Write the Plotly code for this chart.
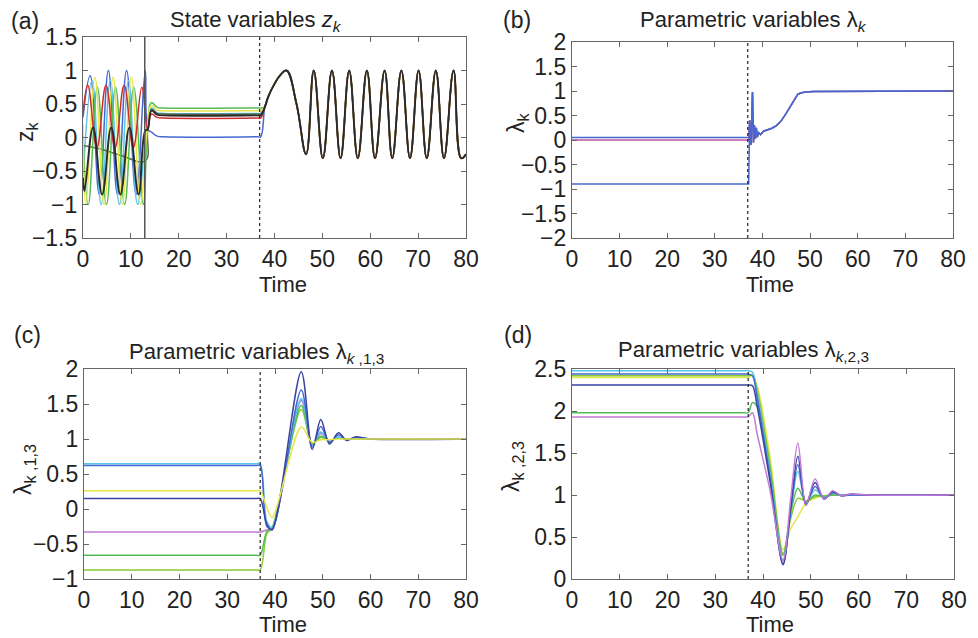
import plotly.graph_objects as go

# ---------------- DATA ----------------
# switching times (vertical marker lines)
SWITCH_A = 12.9
SWITCH_T = 36.9

# Panel (a): state variables z_k  (phase-1 extrema, settling, flat level until the switch)
A_BLUE_T = [0, 1.5, 3.4, 5.3, 7.2, 9.1, 11.1, 13.0, 13.6, 14.3, 15.5, 17.0, 36.5, 37.1]
A_BLUE_V = [0.3, 0.92, -0.85, 1.0, -0.85, 1.0, -0.85, 1.0, 0.12, 0.08, 0.02, 0.01, 0.01, 0.01]
A_CYAN_T = [0, 1.9, 3.8, 5.7, 7.6, 9.5, 11.4, 13.3, 14.3, 15.5, 17.0, 36.5, 37.1]
A_CYAN_V = [-0.6, 0.85, -1.0, 0.85, -1.0, 0.85, -1.0, 0.12, 0.44, 0.37, 0.36, 0.36, 0.36]
A_OLIVE_T = [0, 4.0, 8.0, 13.0, 13.5, 14.3, 15.5, 17.0, 36.5, 37.1]
A_OLIVE_V = [-0.12, -0.18, -0.27, -0.35, 0.1, 0.42, 0.36, 0.35, 0.35, 0.35]
A_GREEN_T = [0, 1.1, 3.0, 4.9, 6.8, 8.7, 10.6, 12.6, 13.5, 14.3, 15.5, 17.0, 36.5, 37.1]
A_GREEN_V = [0.0, -1.0, 0.75, -1.0, 0.75, -1.0, 0.75, -1.0, 0.15, 0.52, 0.45, 0.44, 0.44, 0.44]
A_YELLOW_T = [0, 0.6, 2.5, 4.4, 6.3, 8.2, 10.1, 12.0, 13.4, 14.3, 15.5, 17.0, 36.5, 37.1]
A_YELLOW_V = [0.2, -1.0, 0.9, -1.0, 0.9, -1.0, 0.9, -1.0, 0.12, 0.48, 0.41, 0.40, 0.40, 0.40]
A_RED_T = [0, 1.0, 2.9, 4.8, 6.7, 8.6, 10.5, 12.3, 13.5, 14.3, 15.5, 17.0, 36.5, 37.1]
A_RED_V = [0.35, 0.78, -0.15, 0.78, -0.15, 0.78, -0.15, 0.75, 0.12, 0.35, 0.30, 0.29, 0.29, 0.29]
A_BLACK_T = [0, 0.3, 2.1, 4.0, 5.9, 7.8, 9.7, 11.6, 13.0, 13.5, 14.3, 15.5, 17.0, 36.5, 37.1]
A_BLACK_V = [-0.6, -0.8, 0.15, -0.85, 0.15, -0.85, 0.15, -0.85, 0.1, 0.12, 0.40, 0.34, 0.33, 0.33, 0.33]
# common trajectory after the switch (all series coincide)
A_POST_T = [38.0, 38.7, 40.0, 41.2, 42.5, 44.6, 46.6, 48.2, 50.1, 52.0, 53.8,
            55.6, 57.4, 59.3, 61.0, 63.0, 64.6, 66.5, 68.3, 70.1, 71.8, 73.7, 75.4,
            77.4, 79.0, 80.0]
A_POST_V = [0.46, 0.61, 0.80, 0.93, 1.0, 0.50, -0.25, 1.0, -0.31, 1.0, -0.31,
            1.0, -0.31, 1.0, -0.31, 1.0, -0.31, 1.0, -0.31, 1.0, -0.31, 1.0, -0.31,
            1.0, -0.31, -0.25]

# Panel (b): lambda_k
B_LEVELS = [0.05, 0.0, -0.90]
B_POST_T = [37.1, 37.3, 37.6, 37.9, 38.1, 38.3, 38.5, 38.7, 38.9, 39.2, 39.6, 40.2,
            41.0, 42.0, 43.0, 44.0, 45.0, 45.8, 46.6, 47.4, 48.0, 49.0, 50.7, 80.0]
B_POST_V = [None, 0.40, -0.10, 0.98, -0.05, 0.30, 0.02, 0.25, 0.06, 0.15, 0.11, 0.18,
            0.20, 0.24, 0.30, 0.40, 0.55, 0.68, 0.82, 0.93, 0.96, 0.98, 0.99, 1.0]

# Panel (c): lambda_{k,1,3}
C_T = [0, 36.0, 36.9, 38.3, 39.4, 45.5, 47.8, 49.6, 51.4, 53.3, 55.0, 56.8, 60.0, 80.0]
C_MAGENTA = [-0.33, -0.33, -0.33, -0.30, -0.28, 1.55, 0.92, 1.08, 0.97, 1.03, 0.99, 1.01, 1.0, 1.0]
C_GREEN2 = [-0.87, -0.87, -0.87, -0.35, -0.27, 1.42, 0.94, 1.02, 0.98, 1.01, 1.0, 1.0, 1.0, 1.0]
C_GREEN = [-0.66, -0.66, -0.66, -0.32, -0.27, 1.48, 0.93, 1.04, 0.98, 1.01, 1.0, 1.0, 1.0, 1.0]
C_CYAN = [0.645, 0.645, 0.645, -0.18, -0.26, 1.58, 0.91, 1.10, 0.97, 1.03, 0.99, 1.01, 1.0, 1.0]
C_BLUE = [0.62, 0.62, 0.62, -0.25, -0.28, 1.70, 0.88, 1.18, 0.95, 1.06, 0.99, 1.02, 1.0, 1.0]
C_NAVY = [0.15, 0.15, 0.15, -0.22, -0.30, 1.96, 0.85, 1.28, 0.93, 1.09, 0.98, 1.03, 1.0, 1.0]
C_YELLOW = [0.26, 0.26, 0.26, 0.02, -0.12, 1.17, 0.95, 0.99, 0.99, 1.0, 1.0, 1.0, 1.0, 1.0]

# Panel (d): lambda_{k,2,3}
D_T = [0, 36.0, 36.9, 37.8, 38.8, 41.5, 44.2, 45.8, 47.3, 49.0, 50.9, 52.8, 54.6, 56.4, 58.2, 62.0, 80.0]
D_YELLOW = [2.40, 2.40, 2.40, 2.43, 2.30, 1.45, 0.35, 0.60, 0.74, 0.90, 0.96, 0.99, 1.0, 1.0, 1.0, 1.0, 1.0]
D_GREEN2 = [2.42, 2.42, 2.42, 2.42, 2.25, 1.35, 0.30, 0.72, 0.96, 0.93, 0.98, 0.99, 1.0, 1.0, 1.0, 1.0, 1.0]
D_GREEN = [1.98, 1.98, 1.98, 2.10, 2.05, 1.30, 0.28, 0.78, 1.08, 0.92, 1.0, 0.98, 1.0, 1.0, 1.0, 1.0, 1.0]
D_CYAN = [2.48, 2.48, 2.48, 2.46, 2.20, 1.25, 0.22, 0.80, 1.28, 0.91, 1.06, 0.97, 1.02, 1.0, 1.0, 1.0, 1.0]
D_BLUE = [2.44, 2.44, 2.44, 2.42, 2.15, 1.20, 0.18, 0.82, 1.36, 0.90, 1.10, 0.96, 1.03, 0.99, 1.0, 1.0, 1.0]
D_NAVY = [2.31, 2.31, 2.31, 2.30, 2.05, 1.15, 0.17, 0.85, 1.46, 0.88, 1.15, 0.95, 1.04, 0.99, 1.01, 1.0, 1.0]
D_MAGENTA = [1.93, 1.93, 1.93, 1.98, 1.72, 1.05, 0.22, 0.95, 1.62, 0.88, 1.19, 0.95, 1.05, 0.99, 1.01, 1.0, 1.0]

X_TICKS = [0, 10, 20, 30, 40, 50, 60, 70, 80]

# ---------------- STYLE ----------------
COL = dict(blue="#4568d0", navy="#3a44a0", cyan="#58c3ec", green="#55bb55",
           green2="#88cc33", yellow="#e6e64a", red="#d22a2a", black="#2a2a2a",
           olive="#5a6a4a", magenta="#c27bd6", pink="#c0559a")
FONT = "Liberation Sans, Arial, Helvetica, sans-serif"
AX = "#666666"

fig = go.Figure()


def add(xax, yax, x, y, color, width=1.5, shape="spline", smoothing=0.9):
    fig.add_trace(go.Scatter(x=x, y=y, mode="lines", xaxis=xax, yaxis=yax,
                             line=dict(color=color, width=width, shape=shape, smoothing=smoothing),
                             showlegend=False, hoverinfo="skip"))


# panel (a)
a_series = [(A_BLUE_T, A_BLUE_V, "blue"), (A_CYAN_T, A_CYAN_V, "cyan"),
            (A_OLIVE_T, A_OLIVE_V, "olive"), (A_GREEN_T, A_GREEN_V, "green"),
            (A_YELLOW_T, A_YELLOW_V, "yellow"), (A_RED_T, A_RED_V, "red"),
            (A_BLACK_T, A_BLACK_V, "black")]
for t, v, c in a_series:
    add("x", "y", t + A_POST_T, v + A_POST_V, COL[c],
        width=1.9 if c == "black" else 1.5, smoothing=1.2)

# panel (b)
for lvl, c in zip(B_LEVELS, ["blue", "pink", "blue"]):
    add("x2", "y2", [0] + B_POST_T, [lvl, lvl] + B_POST_V[1:], COL[c], shape="linear")

# panel (c)
for v, c in [(C_MAGENTA, "magenta"), (C_GREEN2, "green2"), (C_GREEN, "green"),
             (C_CYAN, "cyan"), (C_BLUE, "blue"), (C_NAVY, "navy"), (C_YELLOW, "yellow")]:
    add("x3", "y3", C_T, v, COL[c])

# panel (d)
for v, c in [(D_YELLOW, "yellow"), (D_GREEN2, "green2"), (D_GREEN, "green"),
             (D_CYAN, "cyan"), (D_BLUE, "blue"), (D_NAVY, "navy"), (D_MAGENTA, "magenta")]:
    add("x4", "y4", D_T, v, COL[c])

# vertical marker lines
for xr, yr in [("x", "y"), ("x2", "y2"), ("x3", "y3"), ("x4", "y4")]:
    fig.add_shape(type="line", xref=xr, yref=yr + " domain", x0=SWITCH_T, x1=SWITCH_T,
                  y0=0, y1=1, line=dict(color="#222", width=1.2, dash="dot"))
fig.add_shape(type="line", xref="x", yref="y domain", x0=SWITCH_A, x1=SWITCH_A,
              y0=0, y1=1, line=dict(color="#555", width=1.5))

# page has an 8px body margin: figure is 970x630 placed at (8, 8)
OFF = 8
W, H = 978 - OFF, 638 - OFF


def px_x(p):
    return (p - OFF) / W


def px_y(p):
    return 1 - (p - OFF) / H


axis_common = dict(showline=True, linecolor=AX, linewidth=1.2, mirror="ticks",
                   ticks="inside", ticklen=5, tickcolor=AX, showgrid=False,
                   zeroline=False, automargin=False,
                   tickfont=dict(family=FONT, size=23, color="#222"))

domains = {
    1: ([px_x(83), px_x(466)], [px_y(238), px_y(37)], [-1.5, 1.5], 0.5),
    2: ([px_x(572), px_x(953)], [px_y(238), px_y(42)], [-2, 2], 0.5),
    3: ([px_x(84), px_x(466)], [px_y(579), px_y(369)], [-1, 2], 0.5),
    4: ([px_x(572), px_x(954)], [px_y(579), px_y(369)], [0, 2.5], 0.5),
}
layout = {}
for i, (dx, dy, yr, dt) in domains.items():
    s = "" if i == 1 else str(i)
    layout["xaxis" + s] = dict(domain=dx, range=[0, 80], tickvals=X_TICKS,
                               anchor="y" + s, **axis_common)
    layout["yaxis" + s] = dict(domain=dy, range=yr, dtick=dt, tick0=0,
                               anchor="x" + s, **axis_common)

fig.update_layout(width=W, height=H, margin=dict(l=0, r=0, t=0, b=0),
                  plot_bgcolor="white", paper_bgcolor="white", **layout)

ann = [
    # panel labels
    (25, 21, "(a)", 0, 23), (517, 20, "(b)", 0, 23), (27, 335, "(c)", 0, 23), (518, 335, "(d)", 0, 23),
    # titles
    (256, 21, "State variables <i>z<sub>k</sub></i>", 0, 22),
    (753, 21, "Parametric variables λ<sub><i>k</i></sub>", 0, 22),
    (257, 353, "Parametric variables λ<sub><i>k</i> ,1,3</sub>", 0, 22),
    (743, 351, "Parametric variables λ<sub><i>k</i>,2,3</sub>", 0, 22),
    # x titles
    (283, 284, "Time", 0, 22), (770, 284, "Time", 0, 22),
    (283, 624, "Time", 0, 22), (770, 624, "Time", 0, 22),
    # y titles
    (27, 132, "z<sub>k</sub>", -90, 23), (517, 123, "λ<sub>k</sub>", -90, 23),
    (25, 470, "λ<sub>k ,1,3</sub>", -90, 23), (512, 467, "λ<sub>k ,2,3</sub>", -90, 23),
]
for x, y, t, ang, sz in ann:
    fig.add_annotation(x=px_x(x), y=px_y(y), xref="paper", yref="paper", text=t,
                       showarrow=False, textangle=ang,
                       font=dict(family=FONT, size=sz, color="#222"),
                       xanchor="center", yanchor="middle")

fig.write_html("out.html")
